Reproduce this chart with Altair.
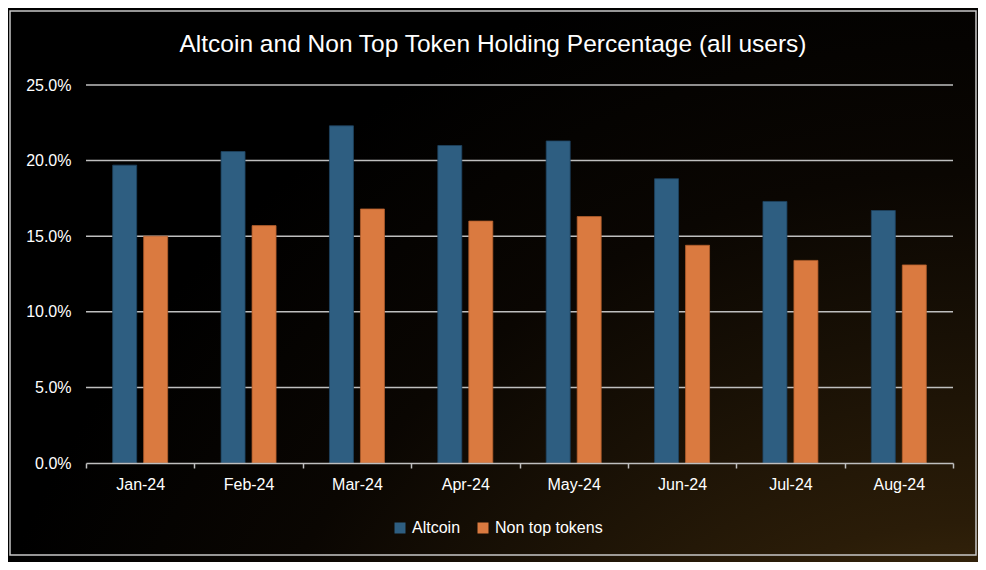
import altair as alt
import pandas as pd

months = ["Jan-24", "Feb-24", "Mar-24", "Apr-24", "May-24", "Jun-24", "Jul-24", "Aug-24"]
altcoin = [19.7, 20.6, 22.3, 21.0, 21.3, 18.8, 17.3, 16.7]
non_top = [15.0, 15.7, 16.8, 16.0, 16.3, 14.4, 13.4, 13.1]
series_names = ["Altcoin", "Non top tokens"]
series_colors = ["#2E5E81", "#DA7A40"]
series_strokes = ["#1E4360", "#B35E2C"]
y_ticks = [0, 0.05, 0.10, 0.15, 0.20, 0.25]
grid_values = [0.05, 0.10, 0.15, 0.20, 0.25]
title_text = "Altcoin and Non Top Token Holding Percentage (all users)"

rows = []
for m, a, n in zip(months, altcoin, non_top):
    rows.append({"month": m, "series": series_names[0], "value": a / 100})
    rows.append({"month": m, "series": series_names[1], "value": n / 100})
df = pd.DataFrame(rows)

FONT = "Liberation Sans"
W, H = 867, 378
yscale = alt.Scale(domain=[0, 0.25])


def y_axis():
    return alt.Axis(
        values=y_ticks, format=".1%", grid=False, domain=False, ticks=False,
        labelFontSize=16, labelColor="#FFFFFF", labelFont=FONT,
        labelPadding=15, zindex=1,
    )


one = pd.DataFrame({"k": [0]})

bg = alt.Chart(one).mark_rect(
    fill=alt.Gradient(
        gradient="radial",
        stops=[
            alt.GradientStop(color="#664716", offset=0.12),
            alt.GradientStop(color="#5A3E13", offset=0.2),
            alt.GradientStop(color="#3E2B0D", offset=0.28),
            alt.GradientStop(color="#2A1C08", offset=0.38),
            alt.GradientStop(color="#181005", offset=0.54),
            alt.GradientStop(color="#0A0602", offset=0.68),
            alt.GradientStop(color="#000000", offset=0.9),
        ],
        x1=1.0, y1=1.2, r1=0, x2=1.0, y2=1.2, r2=1.2,
    )
).encode(x=alt.value(-78), x2=alt.value(892), y=alt.value(-77), y2=alt.value(477))

frame = alt.Chart(one).mark_rect(
    filled=False, stroke="#C8C8C8", strokeWidth=1.5
).encode(x=alt.value(-76), x2=alt.value(890), y=alt.value(-74), y2=alt.value(470))

title = alt.Chart(pd.DataFrame({"t": [title_text]})).mark_text(
    font=FONT, fontSize=24.5, color="#FFFFFF", align="center", baseline="alphabetic"
).encode(text="t:N", x=alt.value(407), y=alt.value(-33))

grid = alt.Chart(pd.DataFrame({"v": grid_values})).mark_rule(
    color="#BFBFBF", strokeWidth=1.5
).encode(y=alt.Y("v:Q", scale=yscale, title=None, axis=y_axis()))

bars = alt.Chart(df).mark_bar(strokeWidth=0.8).encode(
    x=alt.X(
        "month:N", sort=months, title=None,
        scale=alt.Scale(paddingInner=0, paddingOuter=0),
        axis=alt.Axis(
            labelAngle=0, labelFontSize=16, labelColor="#FFFFFF", labelFont=FONT,
            labelPadding=8, tickBand="extent", tickSize=5, tickColor="#BFBFBF",
            tickWidth=1.5, domainColor="#BFBFBF", domainWidth=1.5, grid=False, zindex=1,
        ),
    ),
    xOffset=alt.XOffset(
        "series:N", sort=series_names,
        scale=alt.Scale(paddingInner=0.226, paddingOuter=0.861),
    ),
    y=alt.Y("value:Q", scale=yscale, title=None, axis=y_axis()),
    color=alt.Color(
        "series:N", sort=series_names, title=None,
        scale=alt.Scale(domain=series_names, range=series_colors),
        legend=alt.Legend(
            orient="none", direction="horizontal", legendX=306, legendY=435,
            symbolType="square", symbolSize=121, symbolStrokeWidth=0,
            labelFontSize=16, labelColor="#FFFFFF", labelFont=FONT,
            columnPadding=14, labelOffset=4, padding=0,
        ),
    ),
    stroke=alt.Stroke(
        "series:N", sort=series_names,
        scale=alt.Scale(domain=series_names, range=series_strokes), legend=None,
    ),
)

chart = alt.layer(bg, frame, grid, bars, title).properties(
    width=W, height=H, padding=0, background="#000000"
).configure_view(strokeWidth=0)

chart.save("out.html", embed_options={"renderer": "svg", "actions": False})
